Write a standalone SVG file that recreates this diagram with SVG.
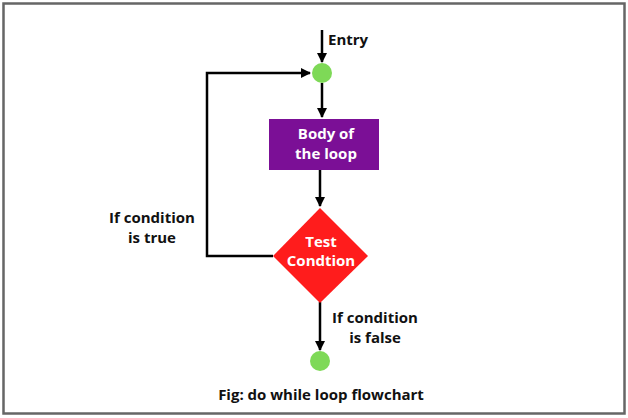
<svg xmlns="http://www.w3.org/2000/svg" width="628" height="418" viewBox="0 0 628 418">
<defs>
<style>
.t{font-family:"Open Sans","Noto Sans","Liberation Sans",sans-serif;font-weight:bold;font-size:15px;fill:#111}
.w{fill:#fff;text-anchor:middle}
.c{stroke:#000;stroke-width:2.5;fill:none}
.dot{fill:#7ed957}
</style>
<marker id="ah" viewBox="0 0 10 10" refX="9" refY="5" markerWidth="4" markerHeight="4" orient="auto" markerUnits="strokeWidth">
<path d="M0,0 L10,5 L0,10 z" fill="#000"/>
</marker>
</defs>
<rect x="3.5" y="3.5" width="621" height="410" fill="#fff" stroke="#666" stroke-width="2.5"/>
<g id="connectors">
<path class="c" d="M322,30 V62" marker-end="url(#ah)"/>
<path class="c" d="M322,83 V117" marker-end="url(#ah)"/>
<path class="c" d="M320,170 V206" marker-end="url(#ah)"/>
<path class="c" d="M273,256 H207 V73 H310" marker-end="url(#ah)"/>
<path class="c" d="M320,302 V350" marker-end="url(#ah)"/>
</g>
<g id="entry-label"><text class="t" x="328" y="45">Entry</text></g>
<g id="start"><circle class="dot" cx="322" cy="73" r="10"/></g>
<g id="body">
<rect x="269" y="119" width="110" height="51" fill="#7b0f96"/>
<text class="t w" x="326" y="139">Body of</text>
<text class="t w" x="326" y="159">the loop</text>
</g>
<g id="test">
<polygon points="320,208 368,256 320,303 273,256" fill="#ff1c1c"/>
<text class="t w" x="321" y="247">Test</text>
<text class="t w" x="321" y="266">Condtion</text>
</g>
<g id="true-label">
<text class="t" x="152" y="223" text-anchor="middle">If condition</text>
<text class="t" x="152" y="243" text-anchor="middle">is true</text>
</g>
<g id="false-label">
<text class="t" x="375" y="323" text-anchor="middle">If condition</text>
<text class="t" x="375" y="343" text-anchor="middle">is false</text>
</g>
<g id="end"><circle class="dot" cx="320" cy="361" r="10"/></g>
<g id="caption"><text class="t" x="321" y="400" text-anchor="middle">Fig: do while loop flowchart</text></g>
</svg>
